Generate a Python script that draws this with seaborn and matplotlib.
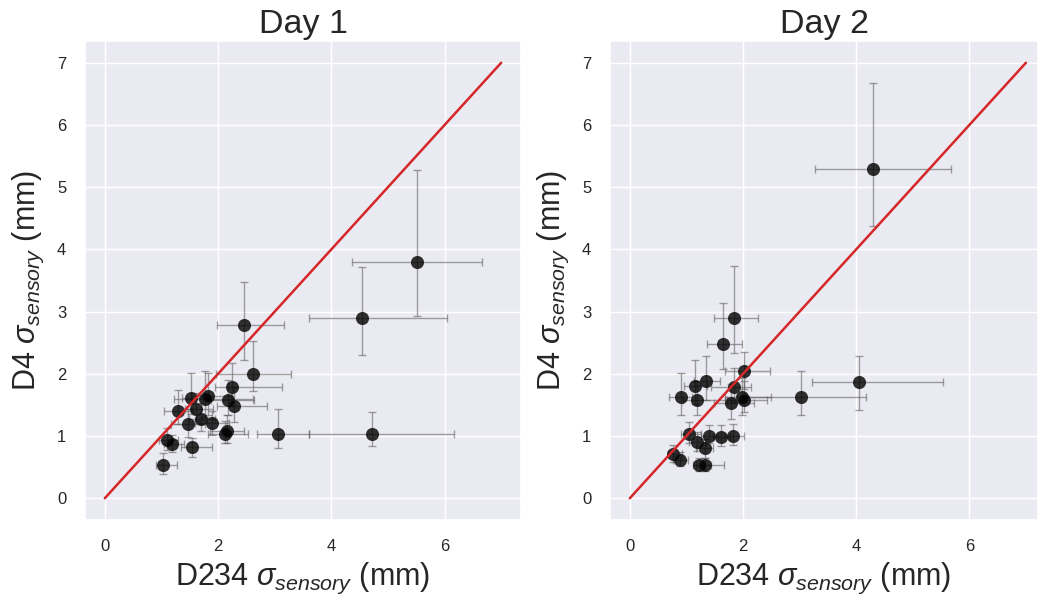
import numpy as np
import pandas as pd
import matplotlib
matplotlib.use("Agg")
import matplotlib.pyplot as plt
import seaborn as sns

# ---------------- data ----------------
titles = ["Day 1", "Day 2"]

d1_x = [1.02, 1.10, 1.19, 1.30, 1.47, 1.52, 1.54, 1.61, 1.69, 1.77, 1.82, 1.89,
        2.12, 2.16, 2.17, 2.24, 2.29, 2.45, 2.62, 3.05, 4.54, 4.71, 5.52]
d1_y = [0.54, 0.93, 0.87, 1.40, 1.19, 1.61, 0.82, 1.44, 1.28, 1.60, 1.64, 1.21,
        1.04, 1.08, 1.58, 1.79, 1.48, 2.78, 2.00, 1.04, 2.89, 1.04, 3.79]
d1_xlo = [0.12, 0.15, 0.15, 0.25, 0.30, 0.15, 0.20, 0.20, 0.20, 0.55, 0.30, 0.30,
          0.30, 0.30, 0.30, 0.30, 0.30, 0.46, 0.66, 0.37, 0.94, 1.11, 1.16]
d1_xhi = [0.25, 0.20, 0.20, 0.25, 0.30, 0.30, 0.36, 0.30, 0.25, 0.85, 0.40, 0.30,
          0.40, 0.30, 0.46, 0.89, 0.58, 0.72, 0.66, 0.55, 1.50, 1.45, 1.15]
d1_ylo = [0.15, 0.15, 0.12, 0.20, 0.20, 0.25, 0.15, 0.20, 0.20, 0.30, 0.30, 0.20,
          0.15, 0.20, 0.25, 0.30, 0.25, 0.56, 0.28, 0.24, 0.58, 0.20, 0.86]
d1_yhi = [0.18, 0.20, 0.15, 0.34, 0.25, 0.41, 0.15, 0.25, 0.25, 0.44, 0.38, 0.20,
          0.20, 0.25, 0.32, 0.39, 0.30, 0.70, 0.52, 0.40, 0.82, 0.35, 1.49]

d2_x = [0.77, 0.88, 1.05, 1.19, 1.32, 1.23, 1.32, 1.40, 1.62, 1.82, 0.90, 1.16,
        1.34, 1.19, 1.84, 1.79, 1.99, 2.02, 2.02, 3.02, 1.65, 1.85, 4.29, 4.05]
d2_y = [0.71, 0.62, 1.03, 0.91, 0.80, 0.54, 0.54, 1.00, 0.99, 1.00, 1.63, 1.81,
        1.88, 1.58, 1.79, 1.53, 1.63, 1.58, 2.05, 1.63, 2.48, 2.89, 5.29, 1.87]
d2_xlo = [0.10, 0.12, 0.15, 0.15, 0.15, 0.12, 0.15, 0.15, 0.15, 0.15, 0.20, 0.20,
          0.20, 0.25, 0.40, 0.30, 0.30, 0.30, 0.34, 1.00, 0.29, 0.36, 1.02, 0.83]
d2_xhi = [0.15, 0.15, 0.20, 0.15, 0.15, 0.20, 0.35, 0.15, 0.15, 0.20, 0.20, 0.20,
          0.25, 0.50, 0.30, 0.40, 0.50, 0.40, 0.45, 1.16, 0.34, 0.42, 1.38, 1.49]
d2_ylo = [0.12, 0.10, 0.15, 0.15, 0.15, 0.10, 0.10, 0.12, 0.15, 0.15, 0.29, 0.30,
          0.30, 0.24, 0.25, 0.25, 0.30, 0.20, 0.30, 0.29, 0.41, 0.55, 0.91, 0.45]
d2_yhi = [0.15, 0.12, 0.20, 0.15, 0.15, 0.10, 0.10, 0.18, 0.18, 0.20, 0.39, 0.41,
          0.41, 0.30, 0.30, 0.30, 0.30, 0.30, 0.30, 0.42, 0.66, 0.85, 1.39, 0.42]

identity = [0, 7]
x_ticks = [0, 2, 4, 6]
y_ticks = [0, 1, 2, 3, 4, 5, 6, 7]

# ---------------- style ----------------
sns.set_theme(style="darkgrid")
plt.rcParams["font.family"] = ["Liberation Sans", "DejaVu Sans"]
plt.rcParams["mathtext.fontset"] = "custom"
plt.rcParams["mathtext.it"] = "Liberation Sans:italic"
plt.rcParams["mathtext.rm"] = "Liberation Sans"

W, H = 1038, 597
fig = plt.figure(figsize=(W / 100, H / 100), dpi=100)

ax_w = 436
ax_bottom = 520
ax_top = 41
ax1 = fig.add_axes([85 / W, (H - ax_bottom) / H, ax_w / W, (ax_bottom - ax_top) / H])
ax2 = fig.add_axes([610 / W, (H - ax_bottom) / H, (W - 610) / W, (ax_bottom - ax_top) / H])

datasets = [
    (d1_x, d1_y, d1_xlo, d1_xhi, d1_ylo, d1_yhi),
    (d2_x, d2_y, d2_xlo, d2_xhi, d2_ylo, d2_yhi),
]

for ax, title, (x, y, xlo, xhi, ylo, yhi) in zip([ax1, ax2], titles, datasets):
    df = pd.DataFrame({"x": x, "y": y})
    ax.errorbar(x, y, xerr=[xlo, xhi], yerr=[ylo, yhi], fmt="none",
                ecolor="0.35", elinewidth=1.0, capsize=3, capthick=1.0,
                alpha=0.55, zorder=2)
    sns.scatterplot(data=df, x="x", y="y", ax=ax, color="black", s=75,
                    alpha=0.8, edgecolor="0.1", linewidth=0.8, zorder=3)
    sns.lineplot(x=identity, y=identity, ax=ax, color="#d62728",
                 linewidth=1.8, zorder=4)
    ax.set_title(title, fontsize=24.5, pad=6)
    ax.set_xlabel(r"D234 $\sigma_{sensory}$ (mm)", fontsize=22, labelpad=5)
    ax.set_ylabel(r"D4 $\sigma_{sensory}$ (mm)", fontsize=22, labelpad=8)
    ax.set_xticks(x_ticks)
    ax.set_yticks(y_ticks)
    ax.tick_params(labelsize=12, pad=7.5)
    ax.set_ylim(-0.35, 7.35)

ax1.set_xlim(-0.35, 7.35)
ax2.set_xlim(-0.35, (W - 629) / 56.7)

fig.savefig("out.png", dpi=100)
